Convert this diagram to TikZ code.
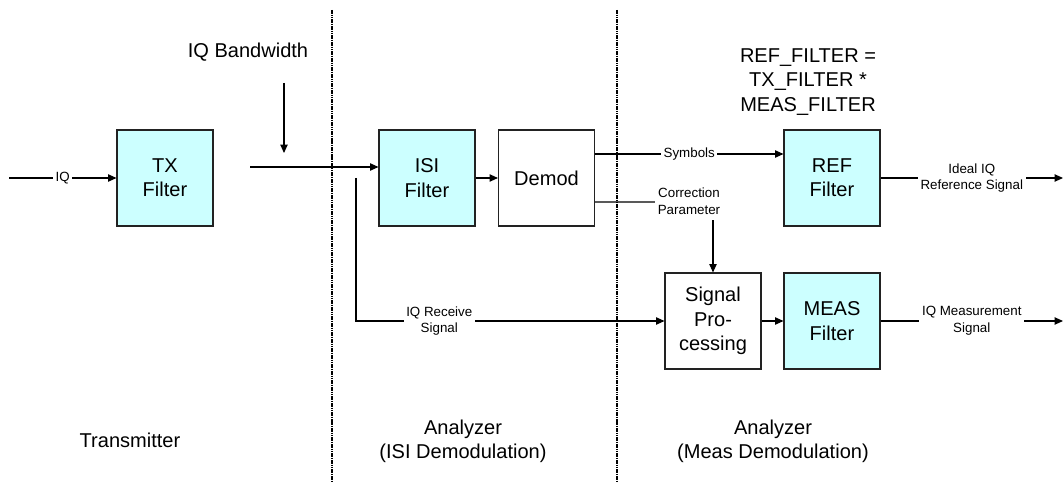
\documentclass[tikz,border=0pt]{standalone}
\usepackage{fontspec}
\setmainfont{Liberation Sans}
\usepackage{xcolor}
\usepackage{tikz}
\usetikzlibrary{arrows.meta, positioning, calc}
\definecolor{filtcyan}{HTML}{CCFFFF}
\definecolor{edgegray}{HTML}{222222}
\newcommand{\bigtxt}{\fontsize{11.4}{13.8}\selectfont}
\newcommand{\smalltxt}{\fontsize{7.6}{9.5}\selectfont}
\tikzset{
  filterbox/.style={draw=edgegray, fill=filtcyan, line width=0.6pt, minimum width=19.2mm, minimum height=19.2mm, align=center, font=\bigtxt, inner sep=0pt},
  procbox/.style={draw=edgegray, fill=white, line width=0.6pt, minimum width=19.2mm, minimum height=19.2mm, align=center, font=\bigtxt, inner sep=0pt},
  sigline/.style={-{Triangle[length=4.8pt, width=4.2pt]}, line width=0.6pt, draw=black},
  plainline/.style={line width=0.6pt, draw=black},
  divider/.style={line width=1.3pt, draw=black, dash pattern=on 0.9pt off 0.4pt},
  siglabel/.style={font=\smalltxt, inner sep=1.5pt, fill=white, align=center},
  sectlabel/.style={font=\bigtxt, inner sep=0pt, align=center}
}

\begin{document}
\begin{tikzpicture}[x=0.2mm, y=-0.2mm]
  \useasboundingbox (0,0) rectangle (1063,483);

  % Section dividers: transmitter | ISI analyzer | meas analyzer
  \coordinate (divAtop) at (332,10);
  \coordinate (divAbot) at (332,483);
  \coordinate (divBtop) at (617,10);
  \coordinate (divBbot) at (617,483);
  \draw[divider] (divAtop) -- (divAbot);
  \draw[divider] (divBtop) -- (divBbot);

  % Processing blocks
  \node[filterbox] at (165,178) (txf) {TX\\Filter};
  \node[filterbox] at (427,178) (isif) {ISI\\Filter};
  \node[procbox] at (546.5,178) (demod) {Demod};
  \node[filterbox] at (832,178) (reff) {REF\\Filter};
  \node[procbox] at (713,321) (sigproc) {Signal\\Pro-\\cessing};
  \node[filterbox] at (832,321) (measf) {MEAS\\Filter};

  % Free ends of the signal paths
  \coordinate (iqin) at (9,178);
  \coordinate (bwin) at (250,167);
  \coordinate (bwtop) at (284,83);
  \coordinate (bwtip) at (284,153);
  \coordinate (rxtap) at (356,178);
  \coordinate (refout) at (1063,178);
  \coordinate (measout) at (1063,321);

  % Texts above and below the blocks
  \node[sectlabel] at (248,52) (bwtext) {IQ Bandwidth};
  \node[sectlabel] at (808,82) (formula)
    {REF\_FILTER =\\TX\_FILTER *\\MEAS\_FILTER};
  \node[sectlabel] at (130,440) (txsect) {Transmitter};
  \node[sectlabel] at (463,441) (isisect) {Analyzer\\(ISI Demodulation)};
  \node[sectlabel] at (773,441) (meassect) {Analyzer\\(Meas Demodulation)};

  % Transmitter side
  \draw[sigline] (iqin) -- node[siglabel] {IQ} (txf.west);
  \draw[sigline] (bwtop) -- (bwtip);
  \draw[sigline] (bwin) -- (bwin -| isif.west);

  % ISI demodulation
  \draw[sigline] (isif.east) -- (demod.west);
  \draw[sigline] (rxtap) |- node[siglabel, pos=0.635] {IQ Receive\\Signal} (sigproc.west);
  \draw[sigline] ([yshift=4.8mm]demod.east) -- node[siglabel] {Symbols}
    ([yshift=4.8mm]reff.west);

  % Correction parameters into the measurement path
  \node[siglabel, fill=none] at (689,201.5) (corr) {Correction\\Parameter};
  \draw[plainline] ([yshift=-4.8mm]demod.east) -- (corr.west |- 0,202);
  \draw[sigline] ([yshift=-0.5mm]corr.south -| sigproc.north) -- (sigproc.north);

  % Meas demodulation
  \draw[sigline] (sigproc.east) -- (measf.west);
  \draw[sigline] (reff.east) -- node[siglabel] {Ideal IQ\\Reference Signal} (refout);
  \draw[sigline] (measf.east) -- node[siglabel] {IQ Measurement\\Signal} (measout);
\end{tikzpicture}
\end{document}
